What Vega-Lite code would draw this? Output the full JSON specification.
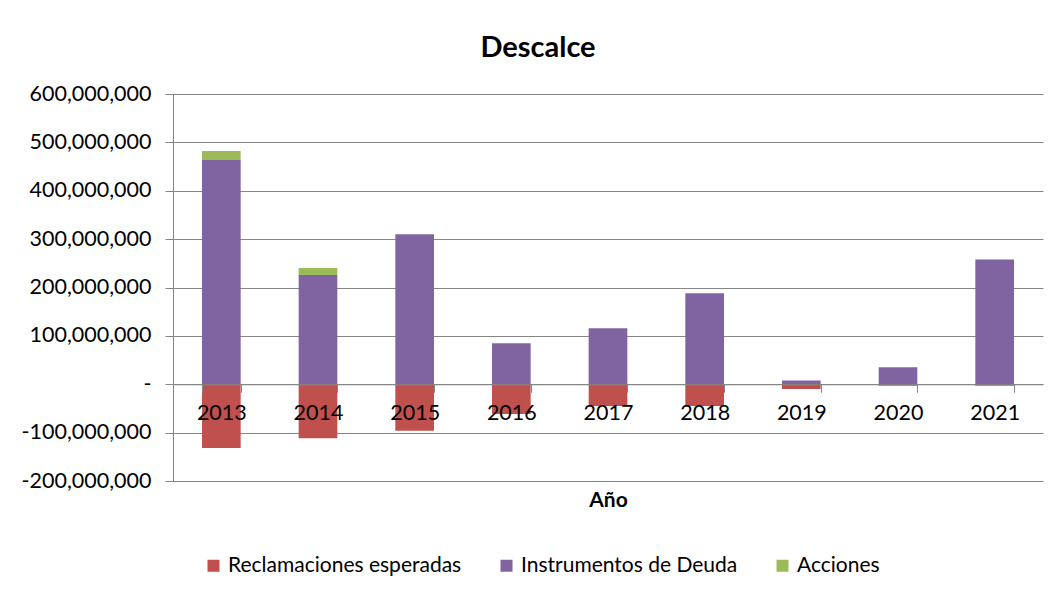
{
  "$schema": "https://vega.github.io/schema/vega-lite/v6.json",
  "width": 870,
  "height": 387,
  "autosize": "none",
  "padding": {"left": 173, "top": 94, "right": 13, "bottom": 111},
  "background": "white",
  "title": {"text": "Descalce", "font": "Lato", "fontSize": 29, "fontWeight": "bold", "color": "#000000", "offset": 20, "dx": -70},
  "config": {"view": {"stroke": null}, "font": "Lato"},
  "data": {
    "values": [
      {"year": "2013", "serie": "Reclamaciones esperadas", "value": -132000000},
      {"year": "2013", "serie": "Instrumentos de Deuda", "value": 463500000},
      {"year": "2013", "serie": "Acciones", "value": 18500000},
      {"year": "2014", "serie": "Reclamaciones esperadas", "value": -111700000},
      {"year": "2014", "serie": "Instrumentos de Deuda", "value": 225800000},
      {"year": "2014", "serie": "Acciones", "value": 14500000},
      {"year": "2015", "serie": "Reclamaciones esperadas", "value": -96000000},
      {"year": "2015", "serie": "Instrumentos de Deuda", "value": 310000000},
      {"year": "2016", "serie": "Reclamaciones esperadas", "value": -61500000},
      {"year": "2016", "serie": "Instrumentos de Deuda", "value": 85000000},
      {"year": "2017", "serie": "Reclamaciones esperadas", "value": -45000000},
      {"year": "2017", "serie": "Instrumentos de Deuda", "value": 116000000},
      {"year": "2018", "serie": "Reclamaciones esperadas", "value": -45000000},
      {"year": "2018", "serie": "Instrumentos de Deuda", "value": 188000000},
      {"year": "2019", "serie": "Reclamaciones esperadas", "value": -10000000},
      {"year": "2019", "serie": "Instrumentos de Deuda", "value": 8000000},
      {"year": "2020", "serie": "Reclamaciones esperadas", "value": -3000000},
      {"year": "2020", "serie": "Instrumentos de Deuda", "value": 35000000},
      {"year": "2021", "serie": "Reclamaciones esperadas", "value": -3000000},
      {"year": "2021", "serie": "Instrumentos de Deuda", "value": 258000000}
    ]
  },
  "mark": {"type": "bar"},
  "encoding": {
    "x": {
      "field": "year",
      "type": "ordinal",
      "title": "Año",
      "scale": {"paddingInner": 0.6, "paddingOuter": 0.3},
      "axis": {
        "orient": "bottom",
        "offset": -96.75,
        "zindex": 1,
        "tickBand": "extent",
        "tickSize": 8,
        "tickColor": "#868686",
        "domainColor": "#868686",
        "labelAngle": 0,
        "labelFont": "Lato",
        "labelFontSize": 21.5,
        "labelColor": "#000000",
        "labelPadding": 10,
        "titleFont": "Lato",
        "titleFontSize": 21,
        "titleFontWeight": "bold",
        "titleColor": "#000000",
        "titleBaseline": "middle",
        "titleY": 116,
        "grid": false
      }
    },
    "y": {
      "field": "value",
      "type": "quantitative",
      "stack": "zero",
      "title": null,
      "scale": {"domain": [-200000000, 600000000], "nice": false},
      "axis": {
        "values": [-200000000, -100000000, 0, 100000000, 200000000, 300000000, 400000000, 500000000, 600000000],
        "labelExpr": "datum.value == 0 ? '-\u2007\u2007' : replace(format(datum.value, ','), '−', '-')",
        "labelFont": "Lato",
        "labelFontSize": 21.5,
        "labelColor": "#000000",
        "labelPadding": 14,
        "tickSize": 8,
        "tickColor": "#868686",
        "domainColor": "#868686",
        "gridColor": "#868686",
        "grid": true
      }
    },
    "color": {
      "field": "serie",
      "type": "nominal",
      "scale": {
        "domain": ["Reclamaciones esperadas", "Instrumentos de Deuda", "Acciones"],
        "range": ["#C0504D", "#8064A2", "#9BBB59"]
      },
      "legend": {
        "orient": "none",
        "direction": "horizontal",
        "legendX": 30,
        "legendY": 461,
        "title": null,
        "symbolType": "square",
        "symbolSize": 144,
        "symbolStrokeWidth": 0,
        "labelFont": "Lato",
        "labelFontSize": 21,
        "labelLimit": 0,
        "labelColor": "#000000",
        "labelOffset": 4,
        "columnPadding": 34
      }
    },
    "order": {"field": "serie", "sort": "descending"}
  }
}
